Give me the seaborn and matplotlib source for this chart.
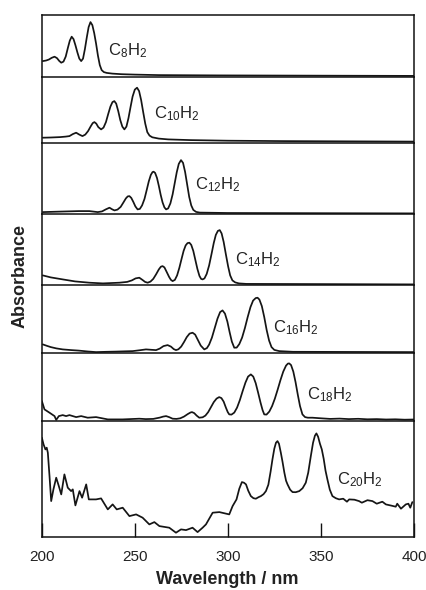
import matplotlib
matplotlib.use("Agg")
import matplotlib.pyplot as plt
import pandas as pd
import seaborn as sns

# ---------------------------------------------------------------------------
# UV absorption spectra of the polyynes C8H2 ... C20H2 (hexane).
# Absorbance is in arbitrary units, measured from the bottom of each panel.
# ---------------------------------------------------------------------------
labels = ["C$_{8}$H$_{2}$", "C$_{10}$H$_{2}$", "C$_{12}$H$_{2}$", "C$_{14}$H$_{2}$",
          "C$_{16}$H$_{2}$", "C$_{18}$H$_{2}$", "C$_{20}$H$_{2}$"]

wl_c8 = [200.7, 202.5, 204.0, 205.5, 207.0, 208.3, 209.5, 210.6, 211.8, 213.0, 214.2,
         215.2, 216.2, 217.2, 218.2, 219.3, 220.3, 221.3, 222.3, 223.3, 224.3, 225.3,
         226.3, 227.3, 228.3, 229.3, 230.3, 231.3, 232.3, 233.5, 235.0, 238.0, 243.0,
         250.0, 263.0, 295.0, 356.0, 400.0]
abs_c8 = [15.0, 15.6, 16.6, 18.3, 19.4, 18.0, 15.2, 13.4, 14.5, 19.5, 28.5,
          35.5, 39.4, 37.0, 31.0, 23.5, 17.5, 15.0, 17.5, 27.0, 38.5, 49.0,
          54.0, 51.0, 43.0, 32.5, 20.5, 11.0, 6.0, 4.0, 3.2, 2.5, 1.9,
          1.5, 1.0, 0.7, 0.4, 0.2]

wl_c10 = [200.7, 205.0, 210.0, 213.0, 215.0, 216.8, 218.6, 220.3, 222.0, 223.5, 225.0,
          226.5, 227.5, 228.4, 229.4, 230.5, 232.0, 233.3, 234.6, 235.8, 237.0, 238.1,
          239.1, 240.1, 241.2, 242.3, 243.4, 244.5, 245.6, 246.7, 247.8, 248.9, 250.1,
          251.3, 252.4, 253.5, 254.6, 255.7, 256.8, 258.0, 259.5, 263.0, 268.0, 280.0,
          300.0, 330.0, 400.0]
abs_c10 = [4.4, 4.6, 5.0, 5.5, 6.0, 8.0, 9.4, 7.5, 6.0, 7.5, 11.0,
           16.0, 19.0, 20.0, 18.5, 15.0, 12.7, 14.5, 20.0, 28.0, 35.5, 40.0,
           41.0, 38.5, 31.0, 22.0, 15.5, 12.7, 15.5, 24.0, 35.0, 45.5, 52.5,
           54.4, 51.0, 42.0, 30.0, 18.5, 10.0, 6.5, 4.8, 3.5, 2.7, 2.0,
           1.4, 1.0, 0.5]

wl_c12 = [200.7, 210.0, 220.0, 225.7, 230.2, 232.5, 234.5, 236.5, 238.0, 239.2, 240.8,
          242.5, 244.0, 245.3, 246.3, 247.2, 248.2, 249.3, 250.4, 251.6, 252.8, 254.0,
          255.3, 256.5, 257.6, 258.7, 259.6, 260.2, 261.0, 262.0, 263.0, 264.0, 265.0,
          266.0, 266.9, 268.0, 269.2, 270.4, 271.5, 272.6, 273.7, 274.9, 276.0, 277.1,
          278.2, 279.3, 280.4, 281.5, 283.0, 285.0, 300.0, 400.0]
abs_c12 = [1.3, 1.8, 2.3, 2.3, 1.3, 2.0, 4.0, 5.7, 4.0, 3.0, 3.8,
           6.5, 11.0, 15.0, 17.0, 17.3, 15.5, 11.5, 7.0, 4.0, 4.5, 8.0,
           14.5, 23.5, 32.0, 38.5, 41.3, 41.7, 40.5, 35.5, 27.5, 18.5, 11.0,
           6.0, 4.0, 5.0, 10.0, 19.0, 30.0, 41.0, 49.5, 53.3, 50.5, 41.5,
           29.0, 16.5, 8.0, 3.5, 1.5, 0.8, 0.4, 0.0]

wl_c14 = [200.7, 205.0, 211.4, 218.0, 225.7, 233.0, 241.8, 246.0, 248.5, 250.5, 252.5,
          254.2, 255.6, 257.0, 258.5, 260.0, 261.5, 263.0, 264.1, 265.0, 266.0, 267.2,
          268.5, 269.5, 270.4, 271.6, 272.8, 274.0, 275.2, 276.3, 277.4, 278.4, 279.4,
          280.4, 281.5, 282.6, 283.7, 284.8, 285.7, 286.5, 287.5, 288.7, 290.0, 291.3,
          292.5, 293.6, 294.7, 295.7, 296.7, 297.8, 299.0, 300.2, 301.3, 302.5, 304.0,
          306.0, 310.0, 350.0, 400.0]
abs_c14 = [9.0, 7.0, 5.0, 3.0, 1.7, 1.0, 1.7, 2.5, 4.0, 6.0, 6.7,
           4.5, 2.5, 1.7, 2.8, 5.5, 10.0, 15.0, 17.7, 18.3, 17.0, 12.5,
           7.5, 4.5, 3.3, 4.5, 9.0, 16.5, 25.5, 33.5, 39.0, 41.3, 41.7,
           39.5, 33.5, 24.5, 15.5, 8.5, 5.5, 5.0, 6.0, 10.5, 19.0, 30.5,
           41.5, 49.5, 53.5, 54.3, 51.0, 42.5, 30.0, 18.0, 9.0, 4.0, 2.0,
           1.0, 0.5, 0.3, 0.0]

wl_c16 = [200.7, 203.0, 205.0, 208.0, 211.4, 216.0, 220.0, 225.0, 229.3, 235.0, 240.0,
          245.0, 249.0, 252.5, 256.1, 259.0, 261.5, 263.5, 265.5, 267.7, 269.5, 271.0,
          272.2, 273.5, 275.0, 276.5, 278.0, 279.5, 281.1, 282.5, 284.0, 285.5, 287.4,
          288.8, 290.0, 291.5, 293.0, 294.5, 295.9, 297.2, 298.5, 299.8, 301.0, 302.2,
          303.5, 304.8, 306.2, 307.7, 309.2, 310.7, 312.2, 313.6, 315.0, 316.0, 317.0,
          318.3, 319.6, 320.9, 322.2, 323.5, 325.0, 327.6, 335.0, 400.0]
abs_c16 = [7.7, 6.2, 5.0, 3.7, 2.7, 2.0, 1.5, 0.6, 0.0, 0.3, 0.5,
           0.8, 1.0, 1.8, 2.7, 2.3, 2.0, 3.5, 6.0, 7.0, 5.5, 3.0,
           2.0, 2.8, 5.5, 10.0, 15.0, 18.5, 19.4, 17.5, 12.0, 6.5, 2.7,
           4.0, 7.5, 14.5, 24.0, 33.5, 40.0, 41.7, 38.5, 30.5, 20.0, 10.5,
           4.4, 4.5, 8.0, 14.5, 24.0, 35.0, 45.0, 51.5, 54.0, 54.4, 52.5,
           46.0, 35.0, 22.0, 11.5, 5.0, 2.2, 1.0, 0.3, 0.0]

wl_c18 = [200.2, 201.6, 204.3, 207.0, 207.9, 209.3, 211.4, 213.2, 215.0, 218.6, 221.3,
          224.8, 229.3, 235.6, 243.6, 252.5, 256.0, 260.0, 263.5, 265.3, 266.9, 268.5,
          270.4, 272.5, 274.5, 276.5, 278.5, 280.0, 280.8, 282.0, 283.3, 284.7, 286.5,
          288.0, 289.5, 291.0, 292.5, 294.0, 295.4, 296.6, 297.8, 299.0, 300.0, 300.8,
          302.0, 303.5, 305.0, 306.5, 308.0, 309.5, 310.9, 312.4, 313.7, 315.0, 316.3,
          317.6, 318.7, 319.6, 320.8, 322.3, 323.8, 325.3, 326.8, 328.3, 329.8, 331.3,
          332.3, 333.0, 334.0, 335.2, 336.4, 337.6, 338.8, 340.1, 341.5, 343.0, 345.5,
          350.0, 355.0, 360.0, 365.0, 370.0, 375.0, 380.0, 385.0, 390.0, 395.0, 400.0]
abs_c18 = [19.0, 10.7, 7.4, 4.0, 0.2, 4.0, 5.0, 4.0, 5.0, 3.0, 4.0,
           2.4, 3.0, 0.7, 0.7, 1.4, 1.0, 1.2, 2.5, 3.5, 4.0, 3.0,
           1.4, 1.2, 1.8, 3.5, 6.0, 7.6, 8.0, 7.0, 4.5, 2.4, 2.8,
           4.5, 8.0, 13.0, 18.0, 21.5, 23.0, 22.0, 18.5, 12.5, 8.0, 5.7,
           5.5, 7.5, 12.5, 20.0, 29.0, 37.5, 43.5, 45.7, 43.5, 37.0, 27.5,
           17.5, 10.0, 5.7, 5.5, 8.5, 14.0, 21.5, 30.5, 40.0, 48.5, 54.5,
           56.5, 56.7, 55.0, 48.5, 38.0, 25.5, 14.0, 5.7, 3.0, 2.4, 2.4,
           1.8, 1.2, 1.5, 1.0, 1.3, 0.8, 1.0, 0.6, 0.8, 0.4, 0.6]

wl_c20 = [200.2, 201.1, 202.1, 202.8, 203.4, 204.3, 205.2, 206.4, 207.9, 209.3, 210.6,
          212.3, 214.1, 215.9, 216.8, 218.2, 220.4, 221.8, 224.0, 225.4, 229.3, 232.0,
          235.6, 238.2, 240.4, 243.6, 247.2, 250.8, 254.3, 257.9, 260.6, 263.3, 268.6,
          272.2, 274.9, 277.6, 281.1, 283.8, 286.5, 288.3, 291.9, 295.5, 300.8, 302.6,
          304.7, 306.2, 307.6, 308.7, 309.8, 311.0, 312.4, 313.8, 315.1, 316.5, 317.8,
          319.2, 320.5, 321.8, 323.0, 324.0, 325.0, 325.9, 326.7, 327.5, 328.5, 329.4,
          330.4, 331.3, 332.1, 333.5, 334.8, 336.5, 338.4, 340.2, 341.9, 343.2, 344.6,
          345.8, 346.8, 347.6, 348.5, 349.5, 350.5, 351.5, 352.5, 353.5, 354.8, 356.2,
          358.0, 359.8, 362.0, 364.0, 365.2, 368.0, 370.5, 372.0, 375.0, 377.7, 380.0,
          383.0, 384.9, 388.0, 390.2, 391.0, 393.0, 395.6, 397.0, 398.0, 399.1]
abs_c20 = [99.0, 92.3, 87.3, 89.0, 84.0, 60.6, 35.6, 47.3, 59.0, 50.6, 42.3,
           62.3, 49.0, 45.6, 47.3, 31.3, 45.6, 39.0, 52.3, 37.3, 37.3, 38.3,
           27.3, 32.3, 27.3, 29.0, 20.6, 22.3, 19.0, 12.3, 14.6, 10.6, 9.0,
           4.0, 7.3, 6.6, 9.0, 4.6, 9.0, 12.3, 24.0, 24.6, 22.3, 30.6,
           37.3, 48.0, 54.6, 54.0, 52.3, 46.0, 40.6, 38.5, 38.0, 39.5, 40.6,
           42.5, 45.6, 52.0, 65.0, 77.3, 88.0, 94.0, 95.6, 93.0, 84.0, 75.0,
           64.0, 56.0, 52.3, 47.0, 44.6, 44.5, 45.6, 48.5, 54.0, 64.0, 80.6,
           94.0, 101.0, 103.3, 100.0, 93.0, 87.3, 78.0, 66.0, 57.3, 47.0, 40.6,
           38.5, 37.3, 38.0, 35.0, 37.3, 37.0, 35.6, 34.0, 36.5, 35.6, 33.0,
           35.0, 32.3, 31.0, 30.0, 33.0, 28.0, 32.3, 33.0, 29.0, 34.6]

wavelengths = [wl_c8, wl_c10, wl_c12, wl_c14, wl_c16, wl_c18, wl_c20]
absorbances = [abs_c8, abs_c10, abs_c12, abs_c14, abs_c16, abs_c18, abs_c20]

# label anchor (wavelength, absorbance) for every panel
label_wl = [235.5, 260.2, 282.6, 303.8, 324.4, 342.3, 358.4]
label_abs = [25.7, 28.7, 29.0, 25.0, 24.7, 25.7, 57.3]

x_ticks = [200, 250, 300, 350, 400]

# ---------------------------------------------------------------------------
sns.set_style("white")
plt.rcParams["font.family"] = ["Liberation Sans", "DejaVu Sans"]
plt.rcParams["mathtext.fontset"] = "custom"
plt.rcParams["mathtext.rm"] = "Liberation Sans"
plt.rcParams["mathtext.it"] = "Liberation Sans:italic"
plt.rcParams["mathtext.bf"] = "Liberation Sans:bold"

W, H = 426, 590
fig = plt.figure(figsize=(W / 100, H / 100), dpi=100)

# panel edges in pixels from the top of the figure
edges = [14.7, 76.7, 142.7, 214.0, 285.0, 352.7, 420.7, 537.3]
left_px, right_px = 41.5, 414.0

frames = [pd.DataFrame({"wavelength": wl, "absorbance": ab, "species": name})
          for wl, ab, name in zip(wavelengths, absorbances, labels)]

for i in range(7):
    top, bot = edges[i], edges[i + 1]
    ax = fig.add_axes([left_px / W, 1 - bot / H, (right_px - left_px) / W, (bot - top) / H])
    ax.patch.set_visible(False)
    sns.lineplot(data=frames[i], x="wavelength", y="absorbance", ax=ax,
                 color="#151515", linewidth=1.25, estimator=None, sort=False)
    ax.set_xlim(200, 400)
    ax.set_ylim(-0.6, (bot - top) - 0.6)
    ax.set_yticks([])
    ax.set_xlabel("")
    ax.set_ylabel("")
    for s in ax.spines.values():
        s.set_linewidth(1.1)
        s.set_color("#111111")
    if i > 0:
        ax.spines["top"].set_visible(False)
    ax.text(label_wl[i], label_abs[i], labels[i], fontsize=12, color="#222222",
            ha="left", va="center")
    if i < 6:
        ax.set_xticks([])
    else:
        ax.set_xticks(x_ticks)
        ax.set_xticklabels([str(t) for t in x_ticks], fontsize=11, color="#222222")
        ax.tick_params(axis="x", direction="in", length=10, width=1.0, pad=9,
                       bottom=True, color="#111111")
        ax.set_xlabel("Wavelength / nm", fontsize=13, fontweight="bold", color="#222222")
        ax.xaxis.set_label_coords(0.5, -0.29)
        ax.xaxis.label.set_va("top")

fig.text(20 / W, 1 - 276 / H, "Absorbance", rotation=90, ha="center", va="center",
         fontsize=13, fontweight="bold", color="#222222")

fig.savefig("out.png", dpi=100, facecolor="white")
